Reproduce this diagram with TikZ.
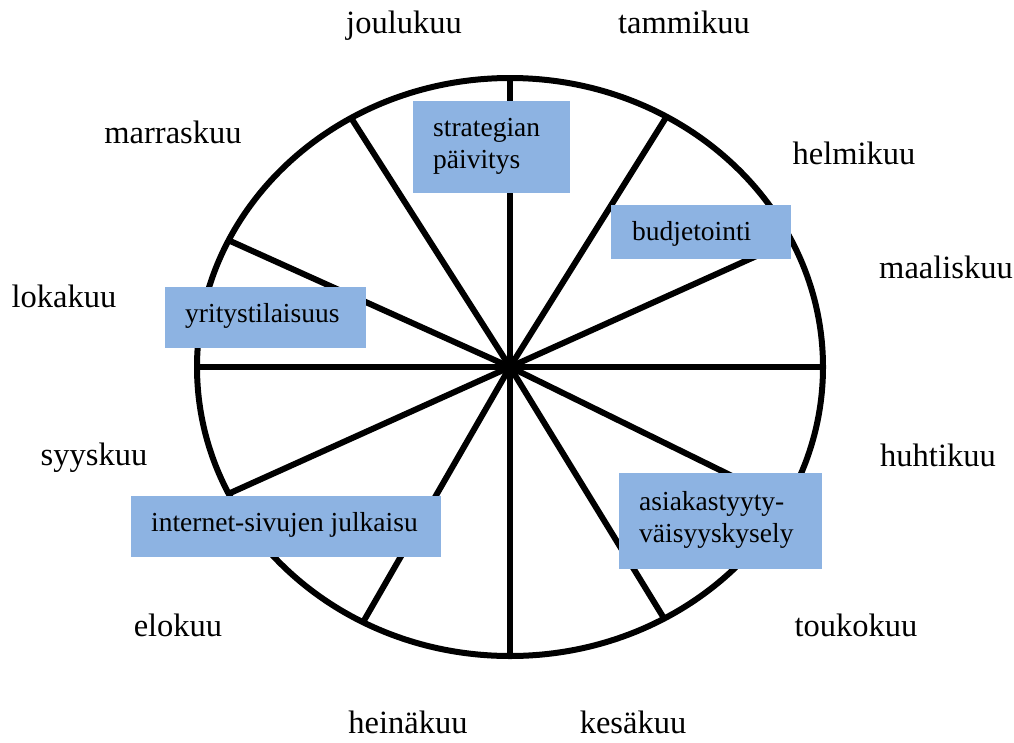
\documentclass[tikz,border=0pt]{standalone}
\usepackage{fontspec}
\setmainfont{Liberation Serif}
\definecolor{boxblue}{RGB}{141,179,226}
\tikzset{
  month/.style={anchor=base, inner sep=0pt, font=\fontsize{32.5}{38}\selectfont},
  boxfill/.style={fill=boxblue, draw=none, anchor=north west, inner sep=0pt},
  boxtext/.style={anchor=base west, inner sep=0pt, font=\fontsize{27.5}{32}\selectfont},
  wheel/.style={line width=6pt, black}
}
\begin{document}
\begin{tikzpicture}[x=1pt,y=-1pt]
\useasboundingbox (0,0) rectangle (1014,742);
\coordinate (c) at (510,367);
\draw[wheel] (c) ellipse [x radius=313, y radius=289];
\foreach \t [count=\i] in {0,26,60,90,120.5,154,180,206,242,270,299.5,332} {
  \coordinate (e\i) at ({510+313*cos(\t)},{367-289*sin(\t)});
  \draw[wheel] (c) -- (e\i);
}
% boxes
\node[boxfill, minimum width=157, minimum height=92] (b1) at (413,101) {};
\node[boxtext] (t1a) at (433,136) {strategian};
\node[boxtext] (t1b) at (433,168) {päivitys};
\node[boxfill, minimum width=180, minimum height=54] (b2) at (611,205) {};
\node[boxtext] (t2) at (632,240) {budjetointi};
\node[boxfill, minimum width=201, minimum height=61] (b3) at (165,287) {};
\node[boxtext] (t3) at (185,322) {yritystilaisuus};
\node[boxfill, minimum width=310, minimum height=61] (b4) at (131,496) {};
\node[boxtext] (t4) at (151,531) {internet-sivujen julkaisu};
\node[boxfill, minimum width=203, minimum height=96] (b5) at (619,473) {};
\node[boxtext] (t5a) at (639,510) {asiakastyyty-};
\node[boxtext] (t5b) at (639,542) {väisyyskysely};
% months
\node[month] (m12) at (404,33) {joulukuu};
\node[month] (m1) at (684,33) {tammikuu};
\node[month] (m2) at (854,164) {helmikuu};
\node[month] (m3) at (946,278) {maaliskuu};
\node[month] (m4) at (938,466) {huhtikuu};
\node[month] (m5) at (856,636) {toukokuu};
\node[month] (m6) at (633,733) {kesäkuu};
\node[month] (m7) at (408,733) {heinäkuu};
\node[month] (m8) at (178,636) {elokuu};
\node[month] (m9) at (94,465) {syyskuu};
\node[month] (m10) at (64,307) {lokakuu};
\node[month] (m11) at (173,143) {marraskuu};
\end{tikzpicture}
\end{document}
